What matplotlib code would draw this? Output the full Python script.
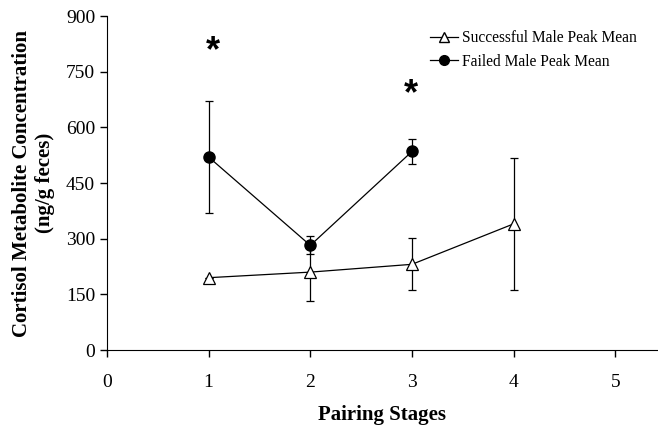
import matplotlib.pyplot as plt
from matplotlib.lines import Line2D

plt.rcParams['font.family'] = ['Liberation Serif', 'DejaVu Serif']

# stages and means
succ_x = [1, 2, 3, 4]
succ_y = [195, 210, 231, 340]
succ_err = [0, 78, 70, 178]

fail_x = [1, 2, 3]
fail_y = [520, 282, 535]
fail_err = [150, 24, 33]

yticks = [0, 150, 300, 450, 600, 750, 900]
xticks = [0, 1, 2, 3, 4, 5]

fig = plt.figure(figsize=(6.58, 4.29), dpi=100)
ax = fig.add_axes([0.1626, 0.184, 0.8374, 0.7787])

ax.errorbar(succ_x, succ_y, yerr=succ_err, color='black', lw=0.9,
            marker='^', ms=8, mfc='white', mec='black', mew=0.9,
            capsize=3, elinewidth=0.9, capthick=0.9, zorder=2)
ax.errorbar(fail_x, fail_y, yerr=fail_err, color='black', lw=0.9,
            marker='o', ms=8, mfc='black', mec='black',
            capsize=3, elinewidth=0.9, capthick=0.9, zorder=3)

# significance marks
ax.text(1.04, 804, '*', fontsize=26, fontweight='bold', ha='center', va='center',
        family=['Liberation Sans', 'DejaVu Sans'])
ax.text(2.99, 688, '*', fontsize=26, fontweight='bold', ha='center', va='center',
        family=['Liberation Sans', 'DejaVu Sans'])

ax.set_xlim(0, 5.42)
ax.set_ylim(0, 900)
ax.set_xticks(xticks)
ax.set_yticks(yticks)
ax.tick_params(labelsize=14, direction='out', length=5, width=1)
ax.tick_params(axis='x', pad=12)
ax.spines['top'].set_visible(False)
ax.spines['right'].set_visible(False)

ax.set_xlabel('Pairing Stages', fontsize=15, fontweight='bold', labelpad=10)
ax.set_ylabel('Cortisol Metabolite Concentration\n(ng/g feces)', fontsize=15,
              fontweight='bold', labelpad=8)

handles = [
    Line2D([], [], color='black', lw=0.9, marker='^', ms=7, mfc='white', mec='black'),
    Line2D([], [], color='black', lw=0.9, marker='o', ms=7, mfc='black', mec='black'),
]
labels = ['Successful Male Peak Mean', 'Failed Male Peak Mean']
ax.legend(handles, labels, loc='upper left', frameon=False, fontsize=11.2,
          handlelength=1.8, handletextpad=0.25, labelspacing=0.5,
          bbox_to_anchor=(0.561, 1.0))

fig.savefig('out.png', dpi=100)
